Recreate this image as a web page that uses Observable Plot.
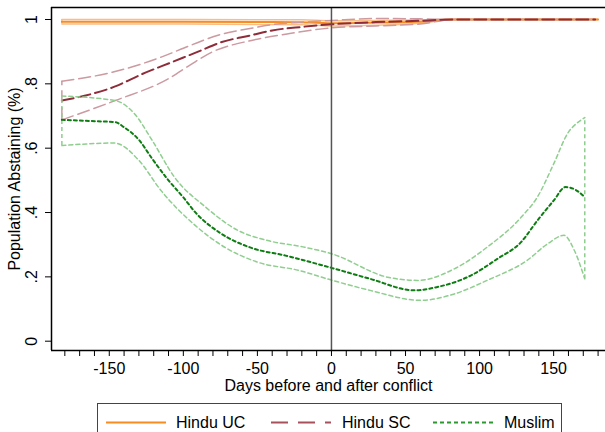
<!DOCTYPE html>
<html><head><meta charset="utf-8">
<script src="https://cdn.jsdelivr.net/npm/d3@7"></script>
<script src="https://cdn.jsdelivr.net/npm/@observablehq/plot@0.6"></script>
<style>
html,body{margin:0;padding:0;background:#fff;overflow:hidden;width:605px;height:432px;}
#chart{position:relative;width:605px;height:432px;font-family:"Liberation Sans",Arial,sans-serif;}
#chart svg{display:block;}
#legend{position:absolute;left:97px;top:403px;width:465px;height:44px;border:1px solid #444;box-sizing:border-box;background:#fff;}
</style>
</head><body>
<div id="chart"></div>
<script>
// ---- data ----
const seriesNames = ["Hindu UC", "Hindu SC", "Muslim"];
const xTicks = d3.range(-180, 181, 10);
const xTickLabels = [-150, -100, -50, 0, 50, 100, 150];
const yTicks = [0, 0.2, 0.4, 0.6, 0.8, 1];
const yTickLabels = ["0", ".2", ".4", ".6", ".8", "1"];

// Hindu UC
const ucDays   = [-182, -100, -40, -10, 0, 25, 58, 82, 180];
const ucMean   = [0.993, 0.993, 0.992, 0.990, 0.988, 0.990, 0.993, 1.0, 1.0];
const ucUpDays = [-182, -100, -20, 0, 40, 82, 180];
const ucUpper  = [1.0, 1.0, 0.999, 0.996, 0.998, 1.0, 1.0];
const ucLoDays = [-182, -100, -20, 0, 30, 60, 82, 180];
const ucLower  = [0.986, 0.986, 0.984, 0.980, 0.982, 0.988, 1.0, 1.0];

// Hindu SC
const scDays   = [-182, -146, -128, -108, -90, -74, -55, -40, -20, 0, 30, 60, 82, 178];
const scMean   = [0.748, 0.792, 0.830, 0.867, 0.900, 0.930, 0.950, 0.966, 0.977, 0.985, 0.992, 0.996, 1.0, 1.0];
const scUpDays = [-182, -148, -115, -95, -76, -55, -40, -20, 0, 30, 60, 82, 178];
const scUpper  = [0.808, 0.836, 0.883, 0.920, 0.952, 0.972, 0.984, 0.992, 0.997, 1.003, 1.002, 1.0, 1.0];
const scLoDays = [-182, -146, -110, -95, -81, -54, -30, 0, 30, 60, 82, 178];
const scLower  = [0.688, 0.748, 0.816, 0.860, 0.898, 0.935, 0.955, 0.974, 0.980, 0.986, 1.0, 1.0];

// Muslim
const muDays   = [-182, -160, -146, -140, -130, -121, -110, -100, -92, -76, -54, -31, 0, 26, 56, 71, 94, 112, 128, 139, 150, 158, 165, 171];
const muMean   = [0.688, 0.684, 0.681, 0.665, 0.626, 0.567, 0.500, 0.447, 0.401, 0.339, 0.290, 0.266, 0.228, 0.194, 0.158, 0.168, 0.204, 0.256, 0.308, 0.375, 0.437, 0.479, 0.470, 0.448];
const muUpDays = [-182, -146, -133, -121, -106, -85, -63, -43, -18, 0, 38, 58, 83, 105, 128, 139, 150, 160, 165, 171];
const muUpper  = [0.762, 0.748, 0.707, 0.624, 0.510, 0.417, 0.344, 0.313, 0.292, 0.272, 0.199, 0.189, 0.225, 0.292, 0.385, 0.448, 0.551, 0.650, 0.675, 0.695];
const muLoDays = [-182, -146, -144, -130, -115, -92, -72, -50, -22, 0, 26, 60, 83, 105, 132, 146, 157, 164, 171];
const muLower  = [0.608, 0.616, 0.614, 0.562, 0.468, 0.360, 0.292, 0.246, 0.220, 0.190, 0.158, 0.127, 0.147, 0.189, 0.251, 0.303, 0.329, 0.282, 0.194];

const colors = {
  uc: "#f78c23", ucCI: "#f9bd86",
  sc: "#8e2c3a", scCI: "#cc9aa0",
  mu: "#0d7d12", muCI: "#8fce8f"
};

// ---- helpers ----
const pts = (days, vals) => days.map((d, i) => ({day: d, v: vals[i]}));
const xDomain = [-189, 185];
const yDomain = [-0.0289, 1.0373];

const curve = "monotone-x";
function ciMarks(upDays, up, loDays, lo, color, dash, endRight) {
  const m = [
    Plot.line(pts(upDays, up), {x: "day", y: "v", stroke: color, strokeWidth: 1.5, strokeDasharray: dash, curve}),
    Plot.line(pts(loDays, lo), {x: "day", y: "v", stroke: color, strokeWidth: 1.5, strokeDasharray: dash, curve}),
    Plot.ruleX([{x: upDays[0], y1: lo[0], y2: up[0]}], {x: "x", y1: "y1", y2: "y2", stroke: color, strokeWidth: 1.5, strokeDasharray: dash})
  ];
  if (endRight) {
    m.push(Plot.ruleX([{x: upDays[upDays.length-1], y1: lo[lo.length-1], y2: up[up.length-1]}], {x: "x", y1: "y1", y2: "y2", stroke: color, strokeWidth: 1.5, strokeDasharray: dash}));
  }
  return m;
}

const plot = Plot.plot({
  width: 605, height: 398,
  marginLeft: 51, marginRight: 0, marginTop: 7, marginBottom: 48,
  x: {domain: xDomain},
  y: {domain: yDomain},
  style: {fontFamily: "'Liberation Sans', Arial, sans-serif", fontSize: "16px", color: "#000", background: "white", overflow: "visible"},
  marks: [
    // Hindu UC
    ...ciMarks(ucUpDays, ucUpper, ucLoDays, ucLower, colors.ucCI, null, false),
    Plot.line(pts(ucDays, ucMean), {x: "day", y: "v", stroke: colors.uc, strokeWidth: 2, curve}),
    // Hindu SC
    ...ciMarks(scUpDays, scUpper, scLoDays, scLower, colors.scCI, "12,5", false),
    Plot.line(pts(scDays, scMean), {x: "day", y: "v", stroke: colors.sc, strokeWidth: 2, strokeDasharray: "12,5", curve}),
    // Muslim
    ...ciMarks(muUpDays, muUpper, muLoDays, muLower, colors.muCI, "4,3", true),
    Plot.line(pts(muDays, muMean), {x: "day", y: "v", stroke: colors.mu, strokeWidth: 2, strokeDasharray: "3,3", curve}),
    // conflict line
    Plot.ruleX([0], {stroke: "#555", strokeWidth: 1.5}),
    // frame (top, left, bottom)
    Plot.ruleY([yDomain[1]], {stroke: "#000", strokeWidth: 1.5}),
    Plot.ruleY([yDomain[0]], {stroke: "#000", strokeWidth: 1.5}),
    Plot.ruleX([xDomain[0]], {stroke: "#000", strokeWidth: 1.5}),
    // axes
    Plot.axisX({ticks: xTicks, tickSize: 6, tickPadding: 6, tickFormat: d => xTickLabels.includes(d) ? String(d) : "", label: null, stroke: "#000"}),
    Plot.axisY({ticks: yTicks, tickSize: 6, tickFormat: () => "", label: null, stroke: "#000"}),
    Plot.text(yTicks, {y: d => d, text: (d, i) => yTickLabels[i], frameAnchor: "left", dx: -20, rotate: -90, textAnchor: "middle", lineAnchor: "middle", fontSize: 16, fill: "#000"}),
    Plot.text(["Days before and after conflict"], {frameAnchor: "bottom", dy: 35, textAnchor: "middle", lineAnchor: "middle", fontSize: 16, fill: "#000"}),
    Plot.text(["Population Abstaining (%)"], {frameAnchor: "left", dx: -37, rotate: -90, textAnchor: "middle", lineAnchor: "middle", fontSize: 16, fill: "#000"})
  ]
});

const chart = document.getElementById("chart");
chart.appendChild(plot);

// ---- legend (below the plot) ----
const legend = document.createElement("div");
legend.id = "legend";
chart.appendChild(legend);
const lsvg = d3.select(legend).append("svg").attr("width", 463).attr("height", 42)
  .style("font-family", "'Liberation Sans', Arial, sans-serif").style("font-size", "16px");
const items = [
  {name: seriesNames[0], color: colors.uc, dash: null, x1: 8, x2: 68, tx: 78},
  {name: seriesNames[1], color: "#a8505b", dash: "17,10", x1: 173, x2: 233, tx: 244},
  {name: seriesNames[2], color: "#2a9a2e", dash: "4,3", x1: 335, x2: 395, tx: 406}
];
const cy = 18.5;
items.forEach(it => {
  lsvg.append("line").attr("x1", it.x1).attr("x2", it.x2).attr("y1", cy).attr("y2", cy)
    .attr("stroke", it.color).attr("stroke-width", 2).attr("stroke-dasharray", it.dash);
  lsvg.append("text").attr("x", it.tx).attr("y", cy).attr("dy", "0.36em").attr("fill", "#000").text(it.name);
});
</script>
</body></html>
